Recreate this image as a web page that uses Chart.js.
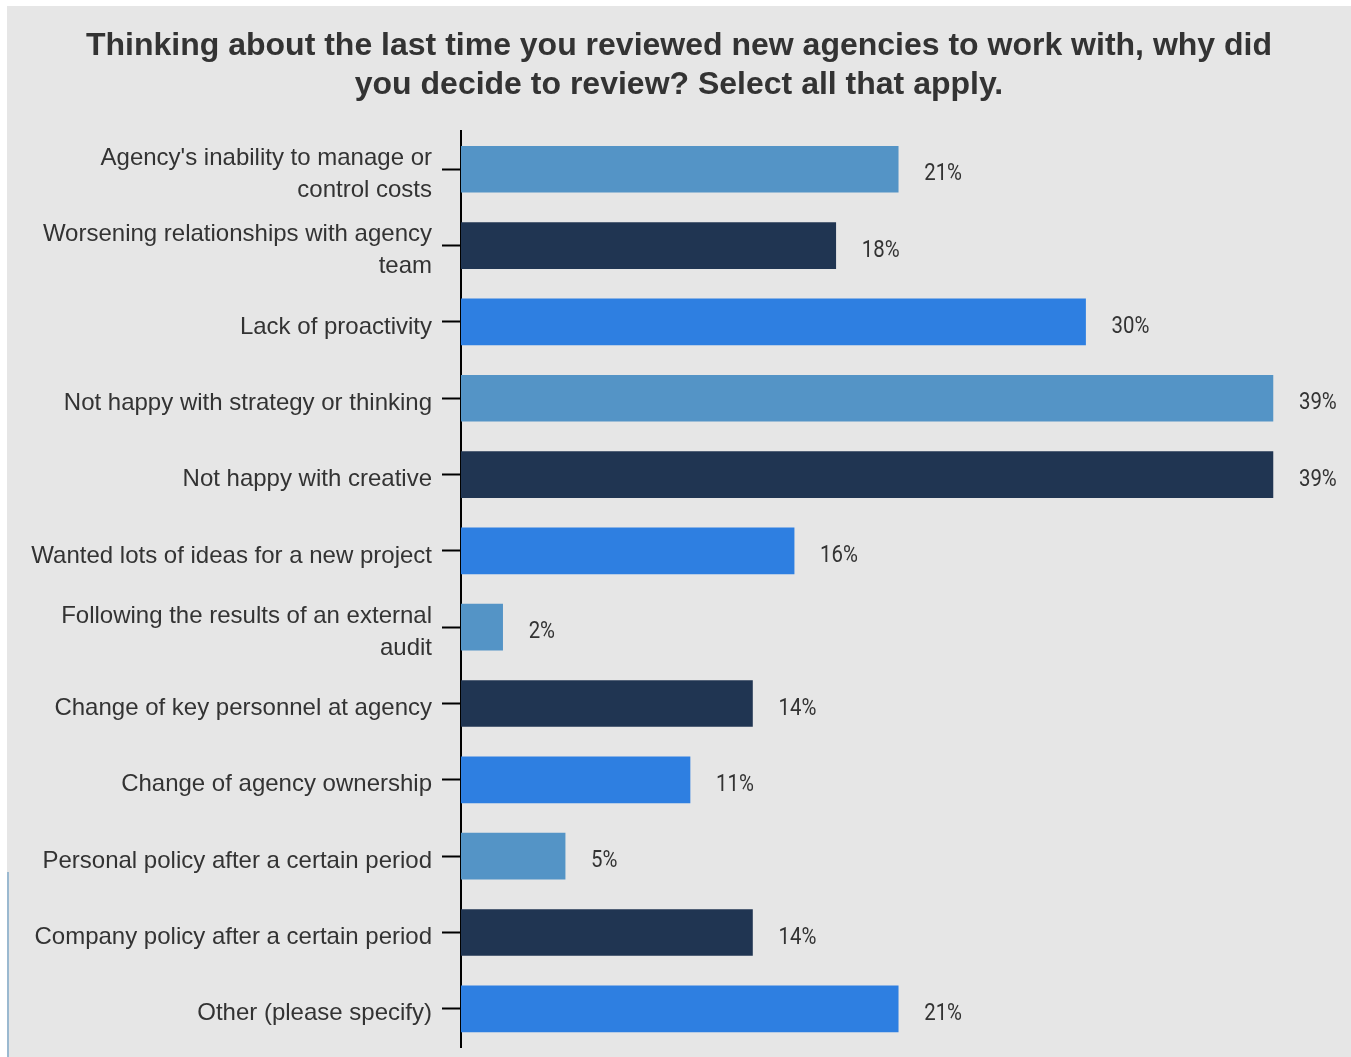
<!DOCTYPE html>
<html>
<head>
<meta charset="utf-8">
<script src="https://cdn.jsdelivr.net/npm/chart.js@4"></script>
<style>
  html, body { margin: 0; padding: 0; background: #fff; }
  #panel {
    position: absolute; left: 7px; top: 6px;
    width: 1344px; height: 1051px; background: #e6e6e6;
  }
  #edge {
    position: absolute; left: 7px; top: 872px;
    width: 2px; height: 185px; background: #9bb9d0;
  }
</style>
</head>
<body>
<div id="panel"><canvas id="reasons"></canvas></div>
<div id="edge"></div>
<script>
(function () {
  "use strict";

  var reasons = [
    ["Agency's inability to manage or", "control costs"],
    ["Worsening relationships with agency", "team"],
    "Lack of proactivity",
    "Not happy with strategy or thinking",
    "Not happy with creative",
    "Wanted lots of ideas for a new project",
    ["Following the results of an external", "audit"],
    "Change of key personnel at agency",
    "Change of agency ownership",
    "Personal policy after a certain period",
    "Company policy after a certain period",
    "Other (please specify)"
  ];
  var shares = [21, 18, 30, 39, 39, 16, 2, 14, 11, 5, 14, 21];
  var palette = ["#5494c6", "#203552", "#2e7fe1"];

  var barColors = shares.map(function (v, i) {
    return palette[i % palette.length];
  });

  // percentage text to the right of every bar
  var valueLabels = {
    id: "valueLabels",
    afterDatasetsDraw: function (chart) {
      var ctx = chart.ctx;
      var meta = chart.getDatasetMeta(0);
      ctx.save();
      ctx.font = "24px Roboto";
      ctx.fillStyle = "#333";
      ctx.textAlign = "left";
      ctx.textBaseline = "middle";
      meta.data.forEach(function (bar, i) {
        ctx.save();
        ctx.translate(bar.x + 26, bar.y + 5);
        ctx.scale(0.85, 1);
        ctx.fillText(shares[i] + "%", 0, 0);
        ctx.restore();
      });
      ctx.restore();
    }
  };

  new Chart(document.getElementById("reasons"), {
    type: "bar",
    data: {
      labels: reasons,
      datasets: [{
        data: shares,
        backgroundColor: barColors,
        borderWidth: 0,
        barThickness: 46
      }]
    },
    plugins: [valueLabels],
    options: {
      indexAxis: "y",
      responsive: true,
      maintainAspectRatio: false,
      animation: false,
      layout: { padding: { left: 0, right: 0, top: 0, bottom: 10 } },
      scales: {
        // extra room past 39% keeps the value text inside the canvas
        x: { display: false, min: 0, max: 42.75 },
        y: {
          afterFit: function (scale) {
            scale.width = 454;
            // two-line labels would otherwise push the plot area in
            scale.paddingTop = 0;
            scale.paddingBottom = 0;
          },
          grid: {
            display: true,
            offset: false,
            drawOnChartArea: false,
            drawTicks: true,
            tickLength: 19,
            tickWidth: 2,
            tickColor: "#000"
          },
          border: { display: true, color: "#000", width: 2 },
          ticks: {
            padding: 10,
            labelOffset: 5,
            color: "#333",
            font: { family: "'Liberation Sans', Arial, sans-serif", size: 24, lineHeight: 1.33 }
          }
        }
      },
      plugins: {
        legend: { display: false },
        tooltip: { enabled: false },
        title: {
          display: true,
          text: [
            "Thinking about the last time you reviewed new agencies to work with, why did",
            "you decide to review? Select all that apply."
          ],
          color: "#333",
          font: { family: "'Liberation Sans', Arial, sans-serif", size: 32, weight: "bold", lineHeight: 1.22 },
          padding: { top: 21, bottom: 26 }
        }
      }
    }
  });
})();
</script>
</body>
</html>
